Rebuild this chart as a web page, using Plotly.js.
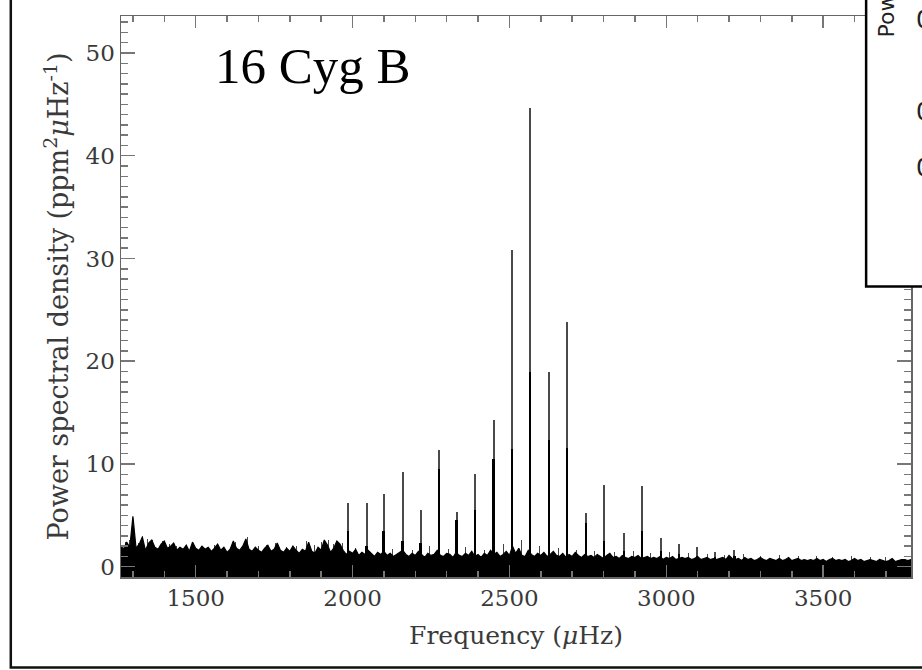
<!DOCTYPE html>
<html>
<head>
<meta charset="utf-8">
<script src="https://cdn.plot.ly/plotly-3.0.1.min.js"></script>
<style>html,body{margin:0;padding:0;background:#fff;}#chart{width:922px;height:670px;}</style>
</head>
<body>
<div id="chart"></div>
<script>
// ---- data ----
// background noise, sampled every 10 µHz from 1260 µHz
var noiseStart = 1260;
var noiseStep = 10;
var noiseLevel = [
  2.1,1.7,2.4,1.9,4.9,1.8,2.2,2.9,1.6,2.3,
  2.6,1.9,1.7,2.2,2.5,1.8,2.0,2.3,1.6,1.9,
  1.7,2.1,1.5,2.4,1.8,1.6,2.0,1.7,1.9,1.5,
  1.8,2.2,1.6,1.9,1.4,1.7,2.5,1.8,1.6,2.0,
  2.7,1.7,1.5,1.9,1.6,1.4,1.8,2.1,1.5,1.7,
  2.3,1.6,1.4,1.8,1.5,2.0,1.6,1.3,1.7,1.5,
  2.4,1.5,1.3,1.9,1.6,2.6,2.1,1.4,1.8,2.5,
  2.2,1.6,1.2,1.5,1.3,1.7,1.1,1.4,1.2,1.6,
  1.3,1.0,1.4,1.2,1.5,1.1,1.3,1.0,1.2,1.4,
  1.6,1.2,1.0,1.3,1.1,1.5,1.2,0.9,1.3,1.1,
  1.2,1.6,1.1,1.0,1.3,1.2,0.9,1.4,1.1,1.0,
  1.3,1.1,1.5,1.0,1.2,0.9,1.3,1.1,1.6,1.2,
  1.4,1.0,1.2,1.5,1.1,2.0,1.3,1.8,1.1,1.0,
  1.6,1.2,1.0,1.3,1.1,1.4,1.0,1.2,1.5,1.1,
  1.0,1.3,0.9,1.2,1.0,1.4,1.1,0.9,1.2,1.0,
  1.1,0.9,1.2,1.0,0.8,1.1,1.3,0.9,1.0,0.8,
  1.1,0.9,0.8,1.0,0.9,1.1,0.8,0.9,1.0,0.8,
  0.9,0.8,1.0,0.7,0.9,0.8,1.0,0.7,0.8,0.9,
  0.8,0.9,0.7,0.8,1.0,0.7,0.8,0.9,0.7,0.8,
  0.7,0.8,0.9,0.7,1.1,0.8,0.7,0.8,0.6,0.9,
  0.7,0.8,0.6,0.7,0.9,0.7,0.6,0.8,0.7,0.6,
  0.8,0.6,0.7,0.9,0.6,0.7,0.8,0.6,0.7,0.6,
  0.7,0.6,0.8,0.6,0.7,0.5,0.7,0.8,0.6,0.7,
  0.6,0.7,0.5,0.6,0.8,0.6,0.7,0.5,0.6,0.7,
  0.6,0.5,0.7,0.6,0.5,0.6,0.8,0.5,0.6,0.7,
  0.7,0.6,0.7
];
// isolated thin noise spikes rising above the dense background
var spikeFreq   = [1275,1290,1318,1331,1345,1363,1380,1395,1417,1440,1470,1490,1520,1560,1590,1627,1666,1700,1725,1755,1790,1820,1854,1880,1902,1924,1940,1969,
                   2010,2128,2190,2245,2305,2360,2420,2480,2540,2595,2655,2715,2770,2835,2895,2950,3010,3070,3130,3185,3245,3300,3360,3420,3480,3530,3590,3650,3700,3745];
var spikeHeight = [2.4,2.6,2.3,3.0,2.7,2.6,2.2,2.5,2.2,2.0,2.1,2.3,2.0,2.1,1.9,2.4,2.9,2.0,2.1,2.3,1.9,2.0,2.5,2.1,2.4,2.6,2.2,2.3,
                   1.8,1.7,1.6,2.0,1.7,1.9,1.6,2.2,2.6,2.0,1.8,1.6,1.5,1.4,1.5,1.3,1.4,1.3,1.2,1.1,1.2,1.0,1.1,1.0,1.0,0.9,1.0,0.9,0.9,1.6];
// oscillation modes: frequency (µHz), peak height, height of the dense part beneath
var modeFreq   = [1985,2045,2099,2160,2217,2275,2332,2390,2450,2508,2565,2626,2683,2744,2801,2865,2922,2983,3040,3098,3155,3217];
var modePeak   = [ 6.2, 6.2, 7.1, 9.2, 5.5,11.4, 5.3, 9.0,14.3,30.8,44.6,19.0,23.8, 5.2, 8.0, 3.3, 7.9, 2.8, 2.2, 1.9, 1.4, 1.6];
var modeInner  = [ 3.5, 2.0, 3.5, 2.5, 2.3, 9.5, 4.5, 5.5,10.5,11.5,19.0,12.3,11.6, 4.3, 2.5, 1.5, 3.5, 1.5, 1.2, 1.0, 0.9, 1.0];

var xTickVals = [1500,2000,2500,3000,3500];
var xTickText = ['1500','2000','2500','3000','3500'];
var yTickVals = [0,10,20,30,40,50];
var yTickText = ['0','10','20','30','40','50'];
var starName = '16 Cyg B';
var insetTitle = 'Power spectral density';
var insetTickText = ['0.6','0.4','0.2'];

// ---- build traces ----
var noiseX = noiseLevel.map(function(_, i){ return noiseStart + i*noiseStep; });
var xMin = 1262, xMax = 3780, yMin = -1.0, yMax = 53.6;

var baseTrace = {x:[xMin, xMax], y:[yMin-0.2, yMin-0.2], mode:'lines', line:{width:0,color:'#000'}, hoverinfo:'skip', showlegend:false};
var noiseTrace = {x:noiseX, y:noiseLevel, mode:'lines', line:{width:1.2,color:'#000'}, fill:'tonexty', fillcolor:'#000', showlegend:false};
var spikeTrace = {type:'bar', x:spikeFreq, y:spikeHeight, width:3, marker:{color:'#444', line:{width:0}}, showlegend:false};
var peakTrace = {type:'bar', x:modeFreq, y:modePeak, width:6.5, marker:{color:'#4a4a4a', line:{width:0}}, showlegend:false};
var innerTrace = {type:'bar', x:modeFreq, y:modeInner, width:8, marker:{color:'#000', line:{width:0}}, showlegend:false};

var serif = 'DejaVu Serif, serif';
var axisCommon = {
  showgrid:false, zeroline:false, showline:true, linecolor:'#666', linewidth:1.5,
  mirror:'allticks', ticks:'inside', tickcolor:'#777', tickwidth:1.5,
  tickfont:{family:serif, size:23, color:'#3a3a3a'}
};

var layout = {
  width:922, height:670,
  margin:{l:121, r:11, t:16, b:93},
  paper_bgcolor:'#fff', plot_bgcolor:'#fff',
  barmode:'overlay', bargap:0,
  showlegend:false,
  xaxis: Object.assign({}, axisCommon, {
    range:[xMin, xMax], tickvals:xTickVals, ticktext:xTickText, ticklen:12,
    minor:{dtick:100, tick0:1500, ticks:'inside', ticklen:6, tickcolor:'#777', tickwidth:1.5},
    title:{text:'Frequency (<i>μ</i>Hz)', font:{family:serif, size:25, color:'#3a3a3a'}, standoff:16}
  }),
  yaxis: Object.assign({}, axisCommon, {
    range:[yMin, yMax], tickvals:yTickVals, ticktext:yTickText, ticklen:14,
    minor:{dtick:1, tick0:0, ticks:'inside', ticklen:7, tickcolor:'#777', tickwidth:1.5},
    title:{text:'Power spectral density (ppm<sup>2</sup><i>μ</i>Hz<sup>-1</sup>)', font:{family:serif, size:27, color:'#3a3a3a'}, standoff:9}
  }),
  shapes:[
    {type:'rect', xref:'paper', yref:'paper', x0:-0.1395, x1:1.05, y0:-0.1611, y1:1.1, line:{color:'#111', width:2.5}, fillcolor:'rgba(0,0,0,0)', layer:'above'},
    {type:'rect', xref:'paper', yref:'paper', x0:0.9432, x1:1.05, y0:0.5177, y1:1.1, line:{color:'#000', width:2.5}, fillcolor:'#fff', layer:'above'}
  ],
  annotations:[
    {text:starName, xref:'paper', yref:'paper', x:0.117, y:0.965, xanchor:'left', yanchor:'top', showarrow:false,
     font:{family:'Liberation Serif, Times New Roman, serif', size:51, color:'#000'}},
    {text:insetTitle, xref:'paper', yref:'paper', x:0.9696, y:0.958, xanchor:'center', yanchor:'bottom', textangle:-90, showarrow:false,
     font:{family:'DejaVu Sans, sans-serif', size:22, color:'#222'}},
    {text:insetTickText[0], xref:'paper', yref:'paper', x:1.0038, y:0.993, xanchor:'left', yanchor:'middle', showarrow:false, font:{family:'DejaVu Sans, sans-serif', size:24, color:'#222'}},
    {text:insetTickText[1], xref:'paper', yref:'paper', x:1.0038, y:0.829, xanchor:'left', yanchor:'middle', showarrow:false, font:{family:'DejaVu Sans, sans-serif', size:24, color:'#222'}},
    {text:insetTickText[2], xref:'paper', yref:'paper', x:1.0038, y:0.729, xanchor:'left', yanchor:'middle', showarrow:false, font:{family:'DejaVu Sans, sans-serif', size:24, color:'#222'}}
  ]
};

Plotly.newPlot('chart', [baseTrace, noiseTrace, spikeTrace, peakTrace, innerTrace], layout, {staticPlot:true, displayModeBar:false});
</script>
</body>
</html>
